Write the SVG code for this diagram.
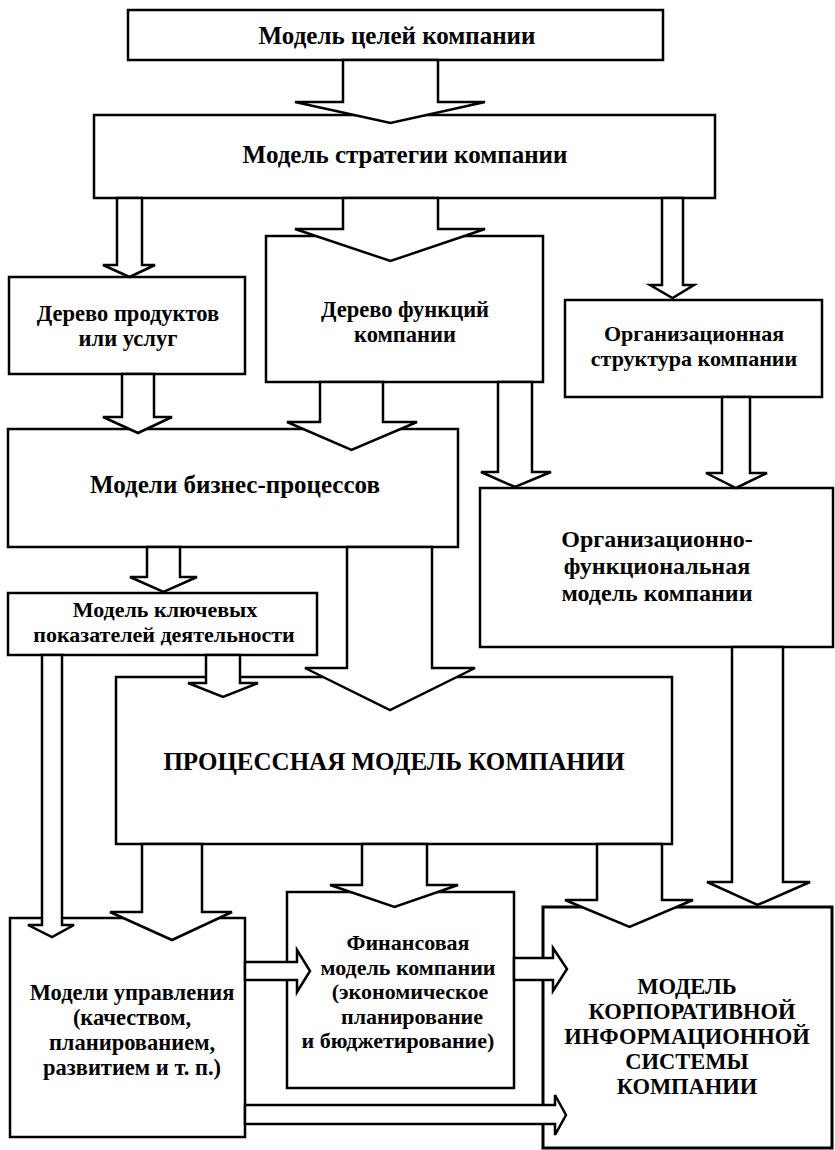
<svg xmlns="http://www.w3.org/2000/svg" width="835" height="1150" viewBox="0 0 835 1150">
<style>
.b{fill:#fff;stroke:#000;stroke-width:2.5}
.k{fill:#fff;stroke:#000;stroke-width:3}
.a{fill:#fff;stroke:#000;stroke-width:2.5;stroke-linejoin:miter}
text{font-family:"Liberation Serif","Times New Roman",serif;font-weight:bold;text-anchor:middle;fill:#000}
.t1{font-size:25px}
.t2{font-size:22px}
.t4{font-size:22.5px}
.t3{font-size:24px}
</style>
<rect width="835" height="1150" fill="#fff"/>
<g id="n1"><rect class="b" x="128" y="10" width="535" height="50"/><text class="t1" x="397" y="44">Модель целей компании</text></g>
<g id="n2"><rect class="b" x="94" y="115" width="621" height="83"/><text class="t1" x="405" y="163">Модель стратегии компании</text></g>
<g id="n3"><rect class="b" x="9" y="277" width="236" height="97"/><text class="t4" x="128" y="321">Дерево продуктов</text><text class="t4" x="128" y="346">или услуг</text></g>
<g id="n4"><rect class="b" x="266" y="236" width="277" height="146"/><text class="t4" x="405" y="317">Дерево функций</text><text class="t4" x="405" y="342">компании</text></g>
<g id="n5"><rect class="b" x="565" y="300" width="257" height="97"/><text class="t2" x="694" y="341">Организационная</text><text class="t2" x="694" y="366">структура компании</text></g>
<g id="n6"><rect class="b" x="8" y="429" width="450" height="118"/><text class="t1" x="235" y="493">Модели бизнес-процессов</text></g>
<g id="n7"><rect class="b" x="480" y="488" width="353" height="159"/><text class="t3" x="657" y="547">Организационно-</text><text class="t3" x="657" y="574">функциональная</text><text class="t3" x="657" y="601">модель компании</text></g>
<g id="n8"><rect class="b" x="8" y="593" width="309" height="62"/><text class="t2" x="165" y="617">Модель ключевых</text><text class="t2" x="164" y="642">показателей деятельности</text></g>
<g id="n9"><rect class="b" x="116" y="677" width="556" height="167"/><text class="t1" x="394" y="770">ПРОЦЕССНАЯ МОДЕЛЬ КОМПАНИИ</text></g>
<g id="n10"><rect class="b" x="10" y="918" width="235" height="219"/><text class="t4" x="132" y="1000">Модели управления</text><text class="t4" x="132" y="1025">(качеством,</text><text class="t4" x="132" y="1050">планированием,</text><text class="t4" x="132" y="1075">развитием и т. п.)</text></g>
<g id="n11"><rect class="b" x="287" y="892" width="227" height="196"/><text class="t2" x="408" y="950">Финансовая</text><text class="t2" x="408" y="974.5">модель компании</text><text class="t2" x="410" y="999">(экономическое</text><text class="t2" x="412" y="1023.5">планирование</text><text class="t2" x="398" y="1048">и бюджетирование)</text></g>
<g id="n12"><rect class="k" x="543" y="907" width="289" height="241"/><text class="t4" x="687" y="994">МОДЕЛЬ</text><text class="t4" x="692" y="1019">КОРПОРАТИВНОЙ</text><text class="t4" x="687" y="1044">ИНФОРМАЦИОННОЙ</text><text class="t4" x="687" y="1069">СИСТЕМЫ</text><text class="t4" x="687" y="1094">КОМПАНИИ</text></g>
<g id="connectors">
<polygon class="a" points="343,60 343,102 295,102 390.5,123 485,102 438,102 438,60"/>
<polygon class="a" points="117,198 117,265 103,265 129.5,277 155,265 142,265 142,198"/>
<polygon class="a" points="343,198 343,229 295,229 390.5,261 485,229 438,229 438,198"/>
<polygon class="a" points="662,198 662,285 650,285 672.5,298 694,285 683,285 683,198"/>
<polygon class="a" points="122,374 122,417 103,417 138,433 172,417 154,417 154,374"/>
<polygon class="a" points="320,382 320,422 287,422 351.5,450 417,422 383,422 383,382"/>
<polygon class="a" points="498,382 498,472 481,472 515,487 551,472 532,472 532,382"/>
<polygon class="a" points="722,397 722,473 706,473 736,488 767,473 750,473 750,397"/>
<polygon class="a" points="147,547 147,577 130,577 163.5,592 197,577 180,577 180,547"/>
<polygon class="a" points="347,547 347,668 305,668 390,710 475,668 432,668 432,547"/>
<polygon class="a" points="206,655 206,683 188,683 223,697 258,683 240,683 240,655"/>
<polygon class="a" points="42,655 42,925 28,925 52,937 74,925 62,925 62,655"/>
<polygon class="a" points="142,844 142,912 110,912 172,940 232,912 202,912 202,844"/>
<polygon class="a" points="362,844 362,885 330,885 394.5,907 458,885 427,885 427,844"/>
<polygon class="a" points="597,844 597,900 565,900 629.5,927 693,900 662,900 662,844"/>
<polygon class="a" points="732,647 732,882 707,882 757.5,905 810,882 783,882 783,647"/>
<polygon class="a" points="245,962 297,962 297,950 310,971 297,992 297,980 245,980"/>
<polygon class="a" points="514,958 553,958 553,948 567,969 553,991 553,980 514,980"/>
<polygon class="a" points="245,1105 555,1105 555,1095 566,1115 555,1135 555,1124 245,1124"/>
</g>
</svg>
